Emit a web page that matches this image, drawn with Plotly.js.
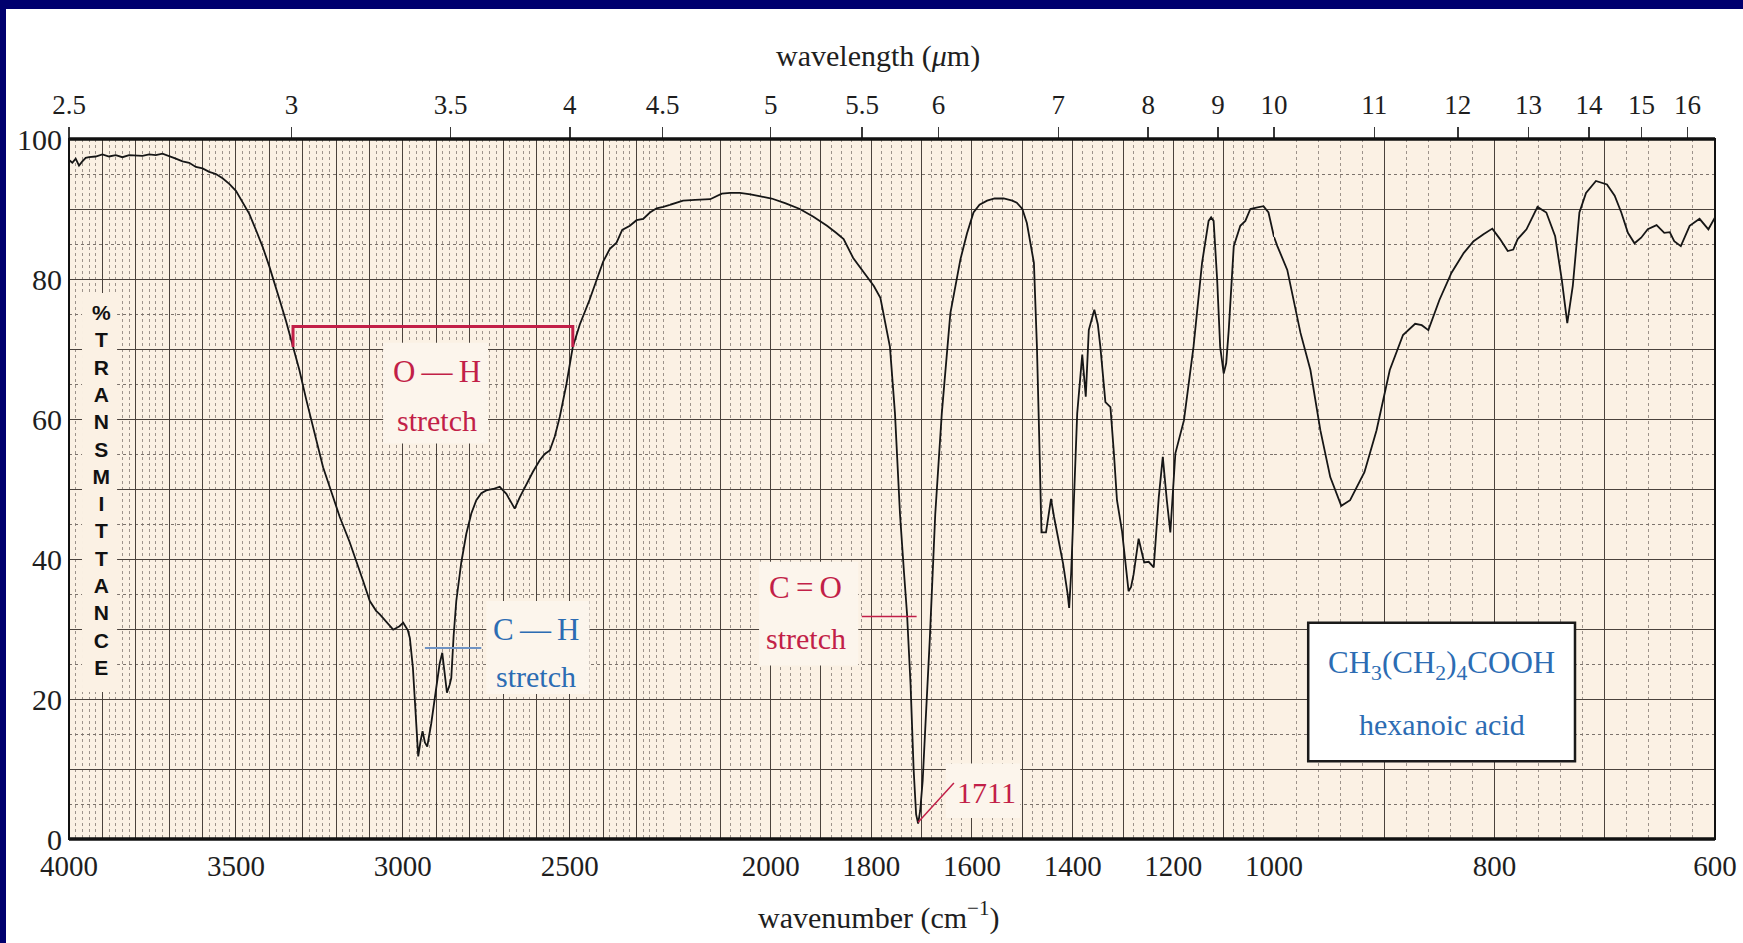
<!DOCTYPE html>
<html><head><meta charset="utf-8">
<script src="https://cdn.plot.ly/plotly-3.0.1.min.js"></script>
<style>
html,body{margin:0;padding:0;background:#00006e;width:1743px;height:943px;overflow:hidden;}
#chart{position:absolute;left:6px;top:9px;width:1737px;height:934px;background:#ffffff;}
</style></head><body><div id="chart"></div>
<script>
// ---- data (wavenumber in cm^-1, %T) ----
const wavenumber = [
 4000,3990,3980,3970,3960,3950,3940,3920,3900,3880,3860,3840,3820,3800,3780,3760,3740,3720,3700,3680,
 3660,3640,3620,3600,3580,3560,3540,3520,3500,3480,3460,3440,3420,3400,3380,3369,3350,3329,3310,3289,
 3260,3239,3210,3189,3160,3139,3120,3099,3080,3069,3050,3029,3010,2999,2985,2979,2970,2964,2954,2947,
 2941,2934,2927,2915,2905,2890,2882,2875,2868,2860,2855,2848,2840,2825,2810,2795,2780,2765,2750,2730,
 2710,2690,2675,2665,2650,2630,2610,2590,2575,2560,2545,2530,2510,2491,2470,2441,2420,2400,2380,2360,
 2343,2320,2300,2280,2260,2240,2220,2200,
 2174,2150,2120,2097,2080,2061,2040,2020,1998,1970,1942,1915,1888,1870,1855,1836,1810,1795,1782,1763,
 1753,1743,1735,1729,1722,1716,1711,1707,1703,1698,1692,1684,1673,1660,1643,1623,1610,1597,1585,1570,
 1555,1537,1520,1511,1500,1491,1477,1471,1466,1462,1453,1443,1437,1431,1419,1410,1407,1403,1399,1391,
 1381,1377,1374,1368,1357,1350,1345,1335,1325,1318,1312,1302,1295,1289,1284,1279,1269,1262,1258,1249,
 1239,1229,1221,1213,1206,1196,1179,1160,1143,1130,1125,1120,1116,1113,1107,1100,1095,1090,1080,1067,
 1057,1047,1035,1021,1011,1000,
 997,988,976,967,958,949,939,931,918,907,895,883,872,866,860,850,839,828,819,810,
 802,795,788,783,779,771,761,753,745,739,734,729,723,717,708,698,691,685,679,673,
 667,661,653,646,641,637,631,623,614,606,600
];
const transmittance = [
 97.0,96.6,97.2,96.2,96.8,97.3,97.4,97.5,97.8,97.5,97.7,97.4,97.7,97.6,97.6,97.8,97.7,97.9,97.6,97.2,
 96.8,96.6,96.0,95.8,95.3,95.0,94.4,93.6,92.6,91.0,89.3,87.0,84.6,81.8,78.5,77.0,74.0,70.3,67.0,62.7,
 57.0,53.1,49.0,46.0,42.5,39.7,37.0,34.0,32.6,32.1,31.0,29.9,30.4,30.9,29.8,28.7,24.5,19.7,11.8,14.0,
 15.4,13.8,13.2,16.5,19.7,25.0,26.6,24.0,20.9,22.0,23.0,29.0,34.0,39.5,43.6,46.5,48.4,49.4,49.8,50.0,
 50.3,49.3,48.0,47.2,48.8,50.7,52.5,54.1,55.0,55.5,57.5,60.3,65.0,70.3,73.5,77.0,79.8,82.5,84.3,85.2,
 87.0,87.6,88.4,88.6,89.5,90.1,90.3,90.6,
 91.2,91.3,91.4,92.2,92.3,92.3,92.1,91.8,91.5,90.8,90.0,88.9,87.6,86.6,85.7,83.0,80.5,79.0,77.3,70.3,
 60.8,46.4,38.0,32.1,22.0,10.0,3.5,2.2,4.0,8.3,17.0,28.3,46.4,60.8,75.1,82.8,86.5,89.5,90.6,91.2,
 91.5,91.5,91.2,90.9,90.0,88.0,82.3,70.3,56.0,43.8,43.8,48.6,46.0,43.6,39.3,35.0,33.0,38.0,46.4,60.8,
 69.2,66.0,63.2,72.7,75.6,73.5,70.3,62.4,61.7,55.0,48.4,44.0,39.0,35.4,36.0,37.8,42.9,40.5,39.5,39.6,
 38.8,48.8,54.6,48.4,43.8,55.1,59.8,70.3,82.3,88.3,88.8,88.3,84.0,79.9,70.3,66.5,68.0,72.7,84.7,87.6,
 88.3,90.0,90.2,90.4,89.5,86.0,
 84.7,81.3,72.3,67.0,58.4,51.7,47.6,48.4,52.4,58.4,67.0,72.0,73.6,73.4,72.7,77.0,80.9,83.7,85.4,86.4,
 87.2,85.7,84.0,84.2,85.7,87.1,90.3,89.5,86.1,79.9,73.7,79.0,89.5,92.3,94.0,93.5,91.9,89.5,86.6,85.1,
 85.9,87.1,87.7,86.6,86.7,85.4,84.7,87.6,88.6,87.1,88.8
];
const wavenumberLabels = [4000,3500,3000,2500,2000,1800,1600,1400,1200,1000,800,600];
const wavelengthLabels = [2.5,3,3.5,4,4.5,5,5.5,6,7,8,9,10,11,12,13,14,15,16];
const transmittanceLabels = [0,20,40,60,80,100];

// ---- axis layout (piecewise wavenumber scale) ----
const segments = [[4000,2200],[2200,1000],[1000,600]];
const domains = [[0,0.3651],[0.3651,0.7321],[0.7321,1]];
const axisIds = ['x','x2','x3'];
const topIds = ['x4','x5','x6'];
const SERIF = 'Liberation Serif, Times New Roman, serif';
const SANS = 'Liberation Sans, Arial, sans-serif';
const BG = '#fbf1e4';
const MAJOR = '#4a423c';
const MINOR = '#9d938b';
const RED = '#c21f48';
const BLUE = '#2c6cb3';

function segOfWavenumber(w){ return w>2200 ? 0 : (w>=1000 ? 1 : 2); }

const segData = segments.map(seg=>{
  const xs=[], ys=[];
  wavenumber.forEach((w,k)=>{ if(w<=seg[0] && w>=seg[1]){ xs.push(w); ys.push(transmittance[k]); } });
  return {xs, ys};
});

const traces = [];
segData.forEach((d,i)=>{
  traces.push({type:'scatter', mode:'lines', x:d.xs, y:d.ys, xaxis:axisIds[i], yaxis:'y',
    line:{color:'#161616', width:1.8}, hoverinfo:'skip', showlegend:false});
});
// invisible copies so that the wavelength (top) axes and the label y-axis get drawn
segData.forEach((d,i)=>{
  traces.push({type:'scatter', mode:'lines', x:d.xs, y:d.ys, xaxis:topIds[i], yaxis:'y',
    line:{color:'rgba(0,0,0,0)', width:0}, hoverinfo:'skip', showlegend:false});
});
traces.push({type:'scatter', mode:'lines', x:segData[0].xs, y:segData[0].ys, xaxis:'x', yaxis:'y2',
  line:{color:'rgba(0,0,0,0)', width:0}, hoverinfo:'skip', showlegend:false});

function bottomAxis(i){
  const [hi,lo]=segments[i];
  const labs = wavenumberLabels.filter(v => segOfWavenumber(v)===i);
  return {domain:domains[i], range:[hi,lo], anchor:'y', tickmode:'array', tickvals:labs, ticktext:labs.map(String),
    tickangle:0, showgrid:false, zeroline:false, showline:false, ticks:'outside', ticklen:0, tickcolor:'rgba(0,0,0,0)',
    tickfont:{family:SERIF, size:29, color:'#1e1e1e'}, ticklabelstandoff:1,
    minor:{tickmode:'linear', tick0:0, dtick:20, ticks:'inside', ticklen:0, showgrid:true, gridcolor:MINOR, griddash:'dot', gridwidth:1},
    fixedrange:true};
}
function topAxis(i){
  const [hi,lo]=segments[i];
  const lam = wavelengthLabels.filter(l => segOfWavenumber(1e4/l)===i);
  return {overlaying:axisIds[i], side:'top', anchor:'y', domain:domains[i], range:[hi,lo],
    tickmode:'array', tickvals:lam.map(l=>1e4/l), ticktext:lam.map(String), tickangle:0,
    ticks:'outside', ticklen:11, tickwidth:1.5, tickcolor:'#3a3a3a', showgrid:false, zeroline:false, showline:false,
    tickfont:{family:SERIF, size:27, color:'#1e1e1e'}, ticklabelstandoff:2,
    minor:{tickmode:'linear', tick0:0, dtick:100, ticks:'inside', ticklen:0, showgrid:true, gridcolor:MAJOR, gridwidth:1},
    fixedrange:true};
}

const layout = {
  width:1737, height:934,
  margin:{l:63, r:28, t:130, b:104},
  paper_bgcolor:'#ffffff', plot_bgcolor:BG,
  showlegend:false,
  font:{family:SERIF, color:'#1e1e1e'},
  xaxis:bottomAxis(0), xaxis2:bottomAxis(1), xaxis3:bottomAxis(2),
  xaxis4:topAxis(0), xaxis5:topAxis(1), xaxis6:topAxis(2),
  yaxis:{range:[0,100], anchor:'x', tickmode:'linear', tick0:0, dtick:10, showticklabels:false,
    showgrid:true, gridcolor:MAJOR, gridwidth:1, zeroline:false, showline:false, ticks:'',
    minor:{tickmode:'linear', tick0:0, dtick:5, showgrid:true, gridcolor:'#7d746d', griddash:'dot', gridwidth:1},
    fixedrange:true},
  yaxis2:{overlaying:'y', side:'left', anchor:'x', range:[0,100], tickmode:'array',
    tickvals:transmittanceLabels, ticktext:transmittanceLabels.map(String),
    showgrid:false, zeroline:false, showline:false, ticks:'',
    tickfont:{family:SERIF, size:30, color:'#1e1e1e'}, ticklabelstandoff:6, fixedrange:true},
  shapes:[
    // label background boxes (hide grid behind text)
    {type:'rect', xref:'x', yref:'y', x0:3961, x1:3856, y0:21, y1:78, fillcolor:BG, line:{width:0}, layer:'between'},
    {type:'rect', xref:'x', yref:'y', x0:3059, x1:2745, y0:56.5, y1:70.9, fillcolor:'#fcf5ec', line:{width:0}, layer:'between'},
    {type:'rect', xref:'x', yref:'y', x0:2750, x1:2441, y0:20.7, y1:34.0, fillcolor:'#fcf5ec', line:{width:0}, layer:'between'},
    {type:'rect', xref:'x2', yref:'y', x0:2023, x1:1826, y0:24.8, y1:39.6, fillcolor:'#fcf5ec', line:{width:0}, layer:'between'},
    {type:'rect', xref:'x2', yref:'y', x0:1652, x1:1504, y0:3.0, y1:10.8, fillcolor:'#fcf5ec', line:{width:0}, layer:'between'},
    // O-H bracket
    {type:'path', xref:'x', yref:'y', path:'M3329,70.3 L3329,73.2 L2491,73.2 L2491,70.3', line:{color:RED, width:3}},
    // C-H marker
    {type:'line', xref:'x', yref:'y', x0:2934, x1:2765, y0:27.3, y1:27.3, line:{color:'#6f93c4', width:2}},
    // C=O marker
    {type:'line', xref:'x2', yref:'y', x0:1819, x1:1710, y0:31.8, y1:31.8, line:{color:RED, width:1.5}},
    // 1711 pointer
    {type:'line', xref:'x2', yref:'y', x0:1707, x1:1636, y0:2.4, y1:8.0, line:{color:RED, width:1.5}},
    // compound box
    {type:'rect', xref:'x3', yref:'y', x0:969, x1:727, y0:11.1, y1:30.9, fillcolor:'#ffffff', line:{color:'#1a1a1a', width:2.5}},
    // frame
    {type:'rect', xref:'paper', yref:'paper', x0:0, x1:1, y0:0, y1:1, line:{color:'#111', width:2}},
    {type:'line', xref:'paper', yref:'paper', x0:0, x1:1, y0:1, y1:1, line:{color:'#111', width:3.5}},
    {type:'line', xref:'paper', yref:'paper', x0:0, x1:1, y0:0, y1:0, line:{color:'#111', width:3.5}}
  ],
  annotations:[
    {xref:'paper', yref:'paper', x:0.4915, y:1.119, xanchor:'center', yanchor:'middle', text:'wavelength (<i>μ</i>m)', showarrow:false,
      font:{family:SERIF, size:30, color:'#1e1e1e'}},
    {xref:'paper', yref:'paper', x:0.4915, y:-0.109, xanchor:'center', yanchor:'middle', text:'wavenumber (cm<sup>−1</sup>)', showarrow:false,
      font:{family:SERIF, size:30, color:'#1e1e1e'}},
    {xref:'x', yref:'y', x:3904, y:49.8, text:'<b>%<br>T<br>R<br>A<br>N<br>S<br>M<br>I<br>T<br>T<br>A<br>N<br>C<br>E</b>',
      showarrow:false, font:{family:SANS, size:21, color:'#111'}, align:'center'},
    {xref:'x', yref:'y', x:2899, y:66.8, text:'O\u2009—\u2009H', showarrow:false, font:{family:SERIF, size:31, color:RED}},
    {xref:'x', yref:'y', x:2899, y:59.8, text:'stretch', showarrow:false, font:{family:SERIF, size:30, color:RED}},
    {xref:'x', yref:'y', x:2600, y:29.9, text:'C\u2009—\u2009H', showarrow:false, font:{family:SERIF, size:31, color:BLUE}},
    {xref:'x', yref:'y', x:2600, y:23.2, text:'stretch', showarrow:false, font:{family:SERIF, size:30, color:BLUE}},
    {xref:'x2', yref:'y', x:1930, y:36.0, text:'C\u2009=\u2009O', showarrow:false, font:{family:SERIF, size:31, color:RED}},
    {xref:'x2', yref:'y', x:1930, y:28.7, text:'stretch', showarrow:false, font:{family:SERIF, size:30, color:RED}},
    {xref:'x2', yref:'y', x:1572, y:6.7, text:'1711', showarrow:false, font:{family:SERIF, size:30, color:RED}},
    {xref:'x3', yref:'y', x:848, y:24.9, text:'CH<sub>3</sub>(CH<sub>2</sub>)<sub>4</sub>COOH', showarrow:false,
      font:{family:SERIF, size:31, color:BLUE}},
    {xref:'x3', yref:'y', x:848, y:16.3, text:'hexanoic acid', showarrow:false, font:{family:SERIF, size:30, color:BLUE}}
  ]
};

Plotly.newPlot('chart', traces, layout, {staticPlot:true, displayModeBar:false});
</script></body></html>
